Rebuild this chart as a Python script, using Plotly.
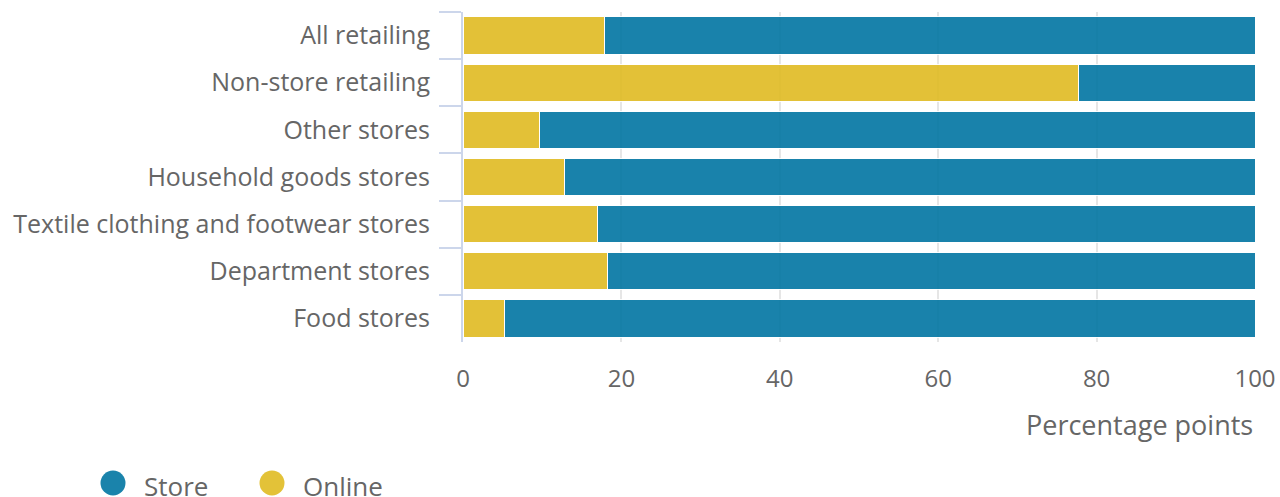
import plotly.graph_objects as go

categories = ["All retailing", "Non-store retailing", "Other stores", "Household goods stores",
              "Textile clothing and footwear stores", "Department stores", "Food stores"]
online = [17.9, 77.7, 9.7, 12.8, 17.0, 18.2, 5.2]
store = [round(100 - v, 1) for v in online]
x_ticks = [0, 20, 40, 60, 80, 100]
legend_names = ["Store", "Online"]

STORE_C = "#0175a2"
ONLINE_C = "#e0bb22"
STORE_L = "#1a83ab"
ONLINE_L = "#e3c238"
TEXT_C = "#666666"
AXIS_C = "#ccd6eb"
FONT = "Open Sans"

W, H = 1280, 497
PL, PR, PT, PB = 463, 1255, 12, 342
PW, PH = PR - PL, PB - PT


def px(xp):
    return (xp - PL) / PW


def py(yp):
    return (PB - yp) / PH


fig = go.Figure()
fig.add_trace(go.Bar(y=categories, x=online, orientation="h", name="Online",
                     marker=dict(color=ONLINE_C, line=dict(width=1, color="white")),
                     opacity=0.9, showlegend=False))
fig.add_trace(go.Bar(y=categories, x=store, orientation="h", name="Store",
                     marker=dict(color=STORE_C, line=dict(width=1, color="white")),
                     opacity=0.9, showlegend=False))

shapes = []
annotations = []
legend_items = [(legend_names[0], STORE_L, 113), (legend_names[1], ONLINE_L, 272)]
for name, col, cx in legend_items:
    cy, r = 483, 12.5
    shapes.append(dict(type="circle", xref="paper", yref="paper",
                       x0=px(cx - r), x1=px(cx + r), y0=py(cy + r), y1=py(cy - r),
                       fillcolor=col, line=dict(width=0)))
    annotations.append(dict(text=name, x=px(cx + 29), xref="paper", xanchor="left",
                            y=py(486), yref="paper", yanchor="middle",
                            showarrow=False, font=dict(size=26, color=TEXT_C)))

annotations.append(dict(text="Percentage points", x=1, xref="paper", xanchor="right",
                        y=py(424), yref="paper", yanchor="middle", showarrow=False,
                        font=dict(size=27, color=TEXT_C)))

fig.update_layout(
    width=W, height=H,
    margin=dict(l=PL, r=W - PR, t=PT, b=H - PB, autoexpand=False),
    barmode="stack", bargap=0.21,
    plot_bgcolor="white", paper_bgcolor="white",
    font=dict(family=FONT, color=TEXT_C, size=24),
    showlegend=False,
    xaxis=dict(range=[0, 100], tickvals=x_ticks, showgrid=True, gridcolor="#e6e6e6", gridwidth=2,
               zeroline=False, showline=False, ticks="", ticklabelstandoff=20, automargin=False,
               tickfont=dict(size=24, color=TEXT_C)),
    yaxis=dict(autorange="reversed", showline=True, linecolor=AXIS_C, linewidth=2,
               ticks="outside", tickson="boundaries", ticklen=22, tickcolor=AXIS_C, tickwidth=2,
               ticklabelstandoff=26, automargin=False,
               tickfont=dict(size=25, color=TEXT_C), showgrid=False),
    shapes=shapes,
    annotations=annotations,
)

# remove the default 8px page margin so the figure fills the window exactly
fig.write_html("out.html", config={"displayModeBar": False},
               post_script="document.body.style.margin='0';document.body.style.overflow='hidden';")
